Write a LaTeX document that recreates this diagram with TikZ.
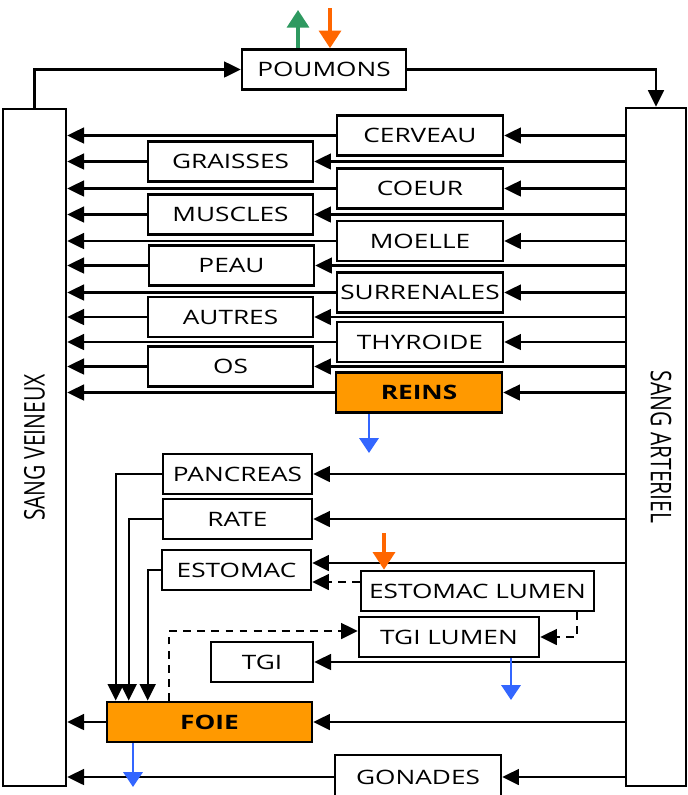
\documentclass[tikz,border=0pt]{standalone}
\usepackage{fontspec}
\setmainfont{Open Sans}[FakeStretch=1.32]
\newfontfamily\sidefont{Open Sans}
\usepackage{tikz}
\usepackage{xcolor}
\usetikzlibrary{arrows.meta}
\definecolor{pkorange}{RGB}{255, 153, 0}
\definecolor{pkdose}{RGB}{255, 102, 0}
\definecolor{pkexhale}{RGB}{46, 153, 96}
\definecolor{pkout}{RGB}{51, 102, 255}

\begin{document}
\begin{tikzpicture}[x=0.02cm, y=-0.02cm,
    organ/.style={draw, line width=1.5pt, inner sep=0pt, minimum height=0.8cm, font=\fontsize{11.3}{13}\selectfont},
    hotorgan/.style={organ, fill=pkorange, font=\fontsize{11.3}{13}\selectfont\bfseries},
    vessel/.style={draw, line width=1.5pt, inner sep=0pt},
    flow/.style={line width=1.35pt, -{Triangle[length=9.5pt, width=9pt]}},
    bile/.style={flow, dash pattern=on 4.5pt off 3.5pt},
    dose/.style={line width=1.9pt, pkdose, -{Triangle[length=10pt, width=12.5pt]}},
    exhale/.style={line width=1.9pt, pkexhale, -{Triangle[length=10pt, width=12.5pt]}},
    excrete/.style={line width=1.3pt, pkout, -{Triangle[length=8.5pt, width=11pt]}}]
        \useasboundingbox (0,0) rectangle (687,795);
        % blood pools
        \node[vessel, minimum width=1.26cm, minimum height=13.54cm] (ven) at (34.5,447.5) {};
        \node (venlabel) at (ven.center) {\scalebox{1.35}[1]{\rotatebox{90}{\fontsize{12}{14}\sidefont SANG VEINEUX}}};
        \node[vessel, minimum width=1.2cm, minimum height=13.56cm] (art) at (656,447) {};
        \node (artlabel) at ([xshift=0.1cm]art.center) {\scalebox{1.35}[1]{\rotatebox{-90}{\fontsize{12}{14}\sidefont SANG ARTERIEL}}};
        \node[organ, minimum width=3.28cm] (poumons) at (324,69.5) {POUMONS};
        % organs, right column
        \node[organ, minimum width=3.32cm] (cerveau) at (420,135.5) {CERVEAU};
        \node[organ, minimum width=3.32cm] (coeur) at (420,188.5) {COEUR};
        \node[organ, minimum width=3.32cm] (moelle) at (420,241) {MOELLE};
        \node[organ, minimum width=3.32cm] (surrenales) at (420,292.5) {SURRENALES};
        \node[organ, minimum width=3.32cm] (thyroide) at (420,342) {THYROIDE};
        \node[hotorgan, minimum width=3.32cm] (reins) at (419,392.5) {REINS};
        % organs, left column
        \node[organ, minimum width=3.3cm] (graisses) at (230.5,161.5) {GRAISSES};
        \node[organ, minimum width=3.3cm] (muscles) at (230.5,214.5) {MUSCLES};
        \node[organ, minimum width=3.3cm] (peau) at (231.5,265.5) {PEAU};
        \node[organ, minimum width=3.3cm] (autres) at (230.5,317) {AUTRES};
        \node[organ, minimum width=3.3cm] (os) at (230.5,366.5) {OS};
        % splanchnic organs
        \node[organ, minimum width=2.98cm] (pancreas) at (237.5,474) {PANCREAS};
        \node[organ, minimum width=2.98cm] (rate) at (237.5,519) {RATE};
        \node[organ, minimum width=2.98cm] (estomac) at (236.5,570) {ESTOMAC};
        \node[organ, minimum width=4.66cm] (elumen) at (477.5,591) {ESTOMAC LUMEN};
        \node[organ, minimum width=3.6cm] (tgilumen) at (449,637) {TGI LUMEN};
        \node[organ, minimum width=2.04cm] (tgi) at (262,662) {TGI};
        \node[hotorgan, minimum width=4.1cm] (foie) at (209.5,722) {FOIE};
        \node[organ, minimum width=3.32cm, minimum height=0.88cm] (gonades) at (418,777) {GONADES};

        % lungs loop
        \draw[flow] (ven.north) |- (poumons.west);
        \draw[flow] (poumons.east) -| (art.north);
        % arterial supply
        \draw[flow] (art.west |- cerveau.east) -- (cerveau.east);
        \draw[flow] (art.west |- graisses.east) -- (graisses.east);
        \draw[flow] (art.west |- coeur.east) -- (coeur.east);
        \draw[flow] (art.west |- muscles.east) -- (muscles.east);
        \draw[flow] (art.west |- moelle.east) -- (moelle.east);
        \draw[flow] (art.west |- peau.east) -- (peau.east);
        \draw[flow] (art.west |- surrenales.east) -- (surrenales.east);
        \draw[flow] (art.west |- autres.east) -- (autres.east);
        \draw[flow] (art.west |- thyroide.east) -- (thyroide.east);
        \draw[flow] (art.west |- os.east) -- (os.east);
        \draw[flow] (art.west |- reins.east) -- (reins.east);
        \draw[flow] (art.west |- pancreas.east) -- (pancreas.east);
        \draw[flow] (art.west |- rate.east) -- (rate.east);
        \draw[flow] ([yshift=0.14cm]art.west |- estomac.east) -- ([yshift=0.14cm]estomac.east);
        \draw[flow] (art.west |- tgi.east) -- (tgi.east);
        \draw[flow] (art.west |- foie.east) -- (foie.east);
        \draw[flow] (art.west |- gonades.east) -- (gonades.east);
        % venous return
        \draw[flow] (cerveau.west) -- (ven.east |- cerveau.west);
        \draw[flow] (graisses.west) -- (ven.east |- graisses.west);
        \draw[flow] (coeur.west) -- (ven.east |- coeur.west);
        \draw[flow] (muscles.west) -- (ven.east |- muscles.west);
        \draw[flow] (moelle.west) -- (ven.east |- moelle.west);
        \draw[flow] (peau.west) -- (ven.east |- peau.west);
        \draw[flow] (surrenales.west) -- (ven.east |- surrenales.west);
        \draw[flow] (autres.west) -- (ven.east |- autres.west);
        \draw[flow] (thyroide.west) -- (ven.east |- thyroide.west);
        \draw[flow] (os.west) -- (ven.east |- os.west);
        \draw[flow] (reins.west) -- (ven.east |- reins.west);
        \draw[flow] (foie.west) -- (ven.east |- foie.west);
        \draw[flow] (gonades.west) -- (ven.east |- gonades.west);
        % portal flow
        \draw[flow] (pancreas.west) -| ([xshift=0.2cm]foie.north west);
        \draw[flow] (rate.west) -| ([xshift=0.46cm]foie.north west);
        \draw[flow] (estomac.west) -| ([xshift=0.84cm]foie.north west);
        % lumen transfer
        \draw[bile] ([yshift=0.18cm]elumen.west) -- ([yshift=0.18cm]elumen.west -| estomac.east);
        \draw[bile] ([xshift=-0.36cm]elumen.south east) |- (tgilumen.east);
        \draw[bile] ([xshift=1.26cm]foie.north west) |- ([yshift=0.12cm]tgilumen.west);
        % inputs and outputs
        \coordinate (o2top) at (330,8);
        \coordinate (co2top) at (298,10);
        \coordinate (dosetop) at (384,533);
        \coordinate (urine) at (369,453);
        \coordinate (feces) at (511,700);
        \coordinate (bileout) at (133,787);
        \draw[dose] (o2top) -- (o2top |- poumons.north);
        \draw[exhale] (co2top |- poumons.north) -- (co2top);
        \draw[dose] (dosetop) -- (dosetop |- elumen.north);
        \draw[excrete] (urine |- reins.south) -- (urine);
        \draw[excrete] (feces |- tgilumen.south) -- (feces);
        \draw[excrete] (bileout |- foie.south) -- (bileout);
      \end{tikzpicture}
\end{document}
